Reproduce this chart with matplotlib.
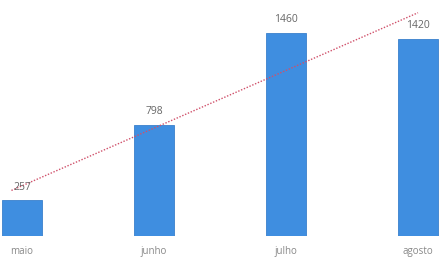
import matplotlib
matplotlib.use("Agg")
import matplotlib.pyplot as plt
import numpy as np

categories = ["maio", "junho", "julho", "agosto"]
values = [257, 798, 1460, 1420]

fig = plt.figure(figsize=(4.41, 2.62), dpi=100)
ax = fig.add_axes([0, 26/262, 1, 236/262])
x = np.arange(len(categories))
ax.bar(x, values, width=0.30, color="#3f8ee0", edgecolor="#3a80cc", linewidth=0.6, zorder=2)

# linear trendline
coef = np.polyfit(x, values, 1)
tx = np.array([-0.08, 3.0])
ax.plot(tx, np.polyval(coef, tx), linestyle=(0, (1, 1.2)), color="#d0506a", linewidth=1.0, zorder=3)

for xi, v in zip(x, values):
    ax.text(xi, v + 55, str(v), ha="center", va="bottom", fontsize=7.5, color="#666666",
            family="Open Sans")

ax.set_xlim(-22/132, 3 + (441-418)/132)
ax.set_ylim(0, 1698)
ax.set_xticks(x)
ax.set_xticklabels(categories, fontsize=7, color="#888888", family="Open Sans")
ax.tick_params(axis="x", length=0, pad=7)
ax.set_yticks([])
for s in ax.spines.values():
    s.set_visible(False)

fig.savefig("out.png", dpi=100)
